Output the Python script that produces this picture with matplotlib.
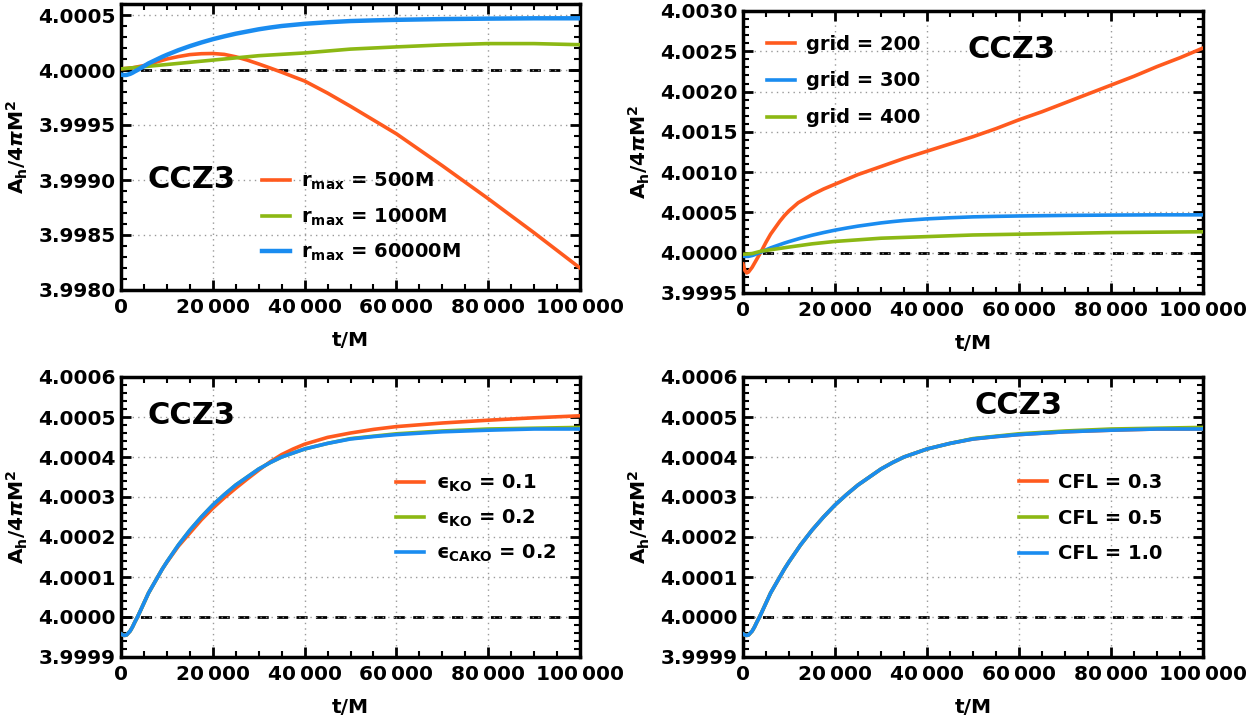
import matplotlib
matplotlib.use("Agg")
import matplotlib.pyplot as plt
from matplotlib.ticker import MultipleLocator, FuncFormatter, FixedLocator

plt.rcParams['font.family'] = ['DejaVu Sans']
plt.rcParams['font.weight'] = 'bold'
plt.rcParams['mathtext.fontset'] = 'dejavusans'
plt.rcParams['mathtext.default'] = 'bf'

ORANGE = '#FF5A1E'
GREEN = '#8CB814'
BLUE = '#1A8CF0'

# ---------------- data ----------------
# reference (converged) run, used in several panels
t_base = [0, 400, 800, 1200, 1600, 2000, 2500, 3000, 3500, 4000, 5000, 6000,
          7000, 8000, 9000, 10000, 12500, 15000, 17500, 20000, 22500, 25000,
          27500, 30000, 32500, 35000, 37500, 40000, 45000, 50000, 55000,
          60000, 70000, 80000, 90000, 100000]
v_base = [3.999958, 3.999955, 3.999954, 3.999955, 3.99996, 3.999965,
          3.999975, 3.999987, 3.999998, 4.00001, 4.000035, 4.00006, 4.00008,
          4.00010, 4.00012, 4.000138, 4.00018, 4.000217, 4.00025, 4.00028,
          4.000306, 4.00033, 4.00035, 4.00037, 4.000386, 4.00040, 4.00041,
          4.00042, 4.000434, 4.000445, 4.000451, 4.000456, 4.000463,
          4.000467, 4.00047, 4.00047]

# panel 1: r_max
t_r500 = [0, 2500, 5000, 7500, 10000, 12500, 15000, 17500, 20000, 22500,
          25000, 27500, 30000, 32500, 35000, 37500, 40000, 45000, 50000,
          55000, 60000, 65000, 70000, 75000, 80000, 85000, 90000, 95000,
          100000]
v_r500 = [4.00001, 4.00002, 4.00004, 4.00007, 4.00010, 4.000122, 4.00014,
          4.000148, 4.00015, 4.000142, 4.00012, 4.00009, 4.000055, 4.000018,
          3.99998, 3.99994, 3.99990, 3.99979, 3.99967, 3.999545, 3.99942,
          3.999275, 3.99913, 3.99898, 3.99883, 3.998675, 3.99852, 3.99836,
          3.99820]
t_r1000 = [0, 5000, 10000, 20000, 30000, 40000, 50000, 60000, 70000, 80000,
           90000, 100000]
v_r1000 = [4.00001, 4.00003, 4.00005, 4.00009, 4.00013, 4.000155, 4.00019,
           4.00021, 4.000228, 4.00024, 4.00024, 4.00023]
labels_r = [r'$r_{max}$ = 500M', r'$r_{max}$ = 1000M', r'$r_{max}$ = 60000M']

# panel 2: grid
t_g200 = [0, 400, 800, 1200, 2000, 3000, 4000, 5000, 6000, 7000, 8000, 9000,
          10000, 11000, 12000, 13500, 15000, 17500, 20000, 25000, 30000,
          35000, 40000, 45000, 50000, 55000, 60000, 65000, 70000, 75000,
          80000, 85000, 90000, 95000, 100000]
v_g200 = [3.99986, 3.99978, 3.99975, 3.99976, 3.99982, 3.99992, 4.00002,
          4.00013, 4.00023, 4.00031, 4.00039, 4.00046, 4.00052, 4.00057,
          4.00062, 4.00067, 4.00072, 4.00079, 4.00085, 4.00097, 4.00107,
          4.00117, 4.00126, 4.00135, 4.00144, 4.00154, 4.00165, 4.00175,
          4.00186, 4.00197, 4.00208, 4.00219, 4.00231, 4.00242, 4.00254]
t_g400 = [0, 2000, 4000, 7000, 10000, 15000, 20000, 25000, 30000, 35000,
          40000, 50000, 60000, 70000, 80000, 90000, 100000]
v_g400 = [3.99998, 3.99999, 4.00002, 4.000045, 4.00007, 4.00011, 4.00014,
          4.00016, 4.00018, 4.00019, 4.00020, 4.00022, 4.00023, 4.00024,
          4.00025, 4.000255, 4.00026]
labels_g = ['grid = 200', 'grid = 300', 'grid = 400']

# panel 3: dissipation
v_ko01 = [3.999958, 3.999955, 3.999954, 3.999955, 3.99996, 3.999965,
          3.999975, 3.999987, 3.999998, 4.00001, 4.000035, 4.00006, 4.00008,
          4.00010, 4.00012, 4.000137, 4.000177, 4.00021, 4.000243, 4.000272,
          4.000298, 4.000322, 4.000345, 4.000367, 4.000388, 4.000406,
          4.00042, 4.000432, 4.000449, 4.00046, 4.000469, 4.000476,
          4.000485, 4.000492, 4.000498, 4.000503]
v_ko02 = [3.999958, 3.999955, 3.999954, 3.999955, 3.99996, 3.999965,
          3.999975, 3.999987, 3.999998, 4.00001, 4.000035, 4.00006, 4.00008,
          4.00010, 4.00012, 4.000138, 4.00018, 4.000217, 4.00025, 4.00028,
          4.000306, 4.00033, 4.00035, 4.00037, 4.000386, 4.00040, 4.00041,
          4.00042, 4.000434, 4.000446, 4.000452, 4.000458, 4.000465,
          4.00047, 4.000472, 4.000474]
labels_ko = [r'$ϵ_{KO}$ = 0.1', r'$ϵ_{KO}$ = 0.2', r'$ϵ_{CAKO}$ = 0.2']

# panel 4: CFL
v_cfl03 = v_base
v_cfl05 = v_ko02
v_cfl10 = v_base
labels_cfl = ['CFL = 0.3', 'CFL = 0.5', 'CFL = 1.0']

xticks = [0, 20000, 40000, 60000, 80000, 100000]

# ---------------- figure ----------------
fig = plt.figure(figsize=(12.56, 7.19), dpi=100)
W, H = 1256, 719


def make_ax(l, r, t, b):
    return fig.add_axes([l / W, 1 - b / H, (r - l) / W, (b - t) / H])


def xfmt(x, pos):
    return f"{int(round(x)):,}".replace(",", "\u2009")


def style(ax, ylim, ymajor, yminor):
    ax.set_xlim(0, 100000)
    ax.set_ylim(*ylim)
    ax.xaxis.set_major_locator(FixedLocator(xticks))
    ax.xaxis.set_minor_locator(MultipleLocator(5000))
    ax.xaxis.set_major_formatter(FuncFormatter(xfmt))
    ax.yaxis.set_major_locator(MultipleLocator(ymajor))
    ax.yaxis.set_minor_locator(MultipleLocator(yminor))
    ax.yaxis.set_major_formatter(FuncFormatter(lambda y, p: f"{y:.4f}"))
    ax.tick_params(which='both', direction='in', top=True, right=True,
                   labelsize=14.5)
    ax.tick_params(which='major', length=7, width=2)
    ax.tick_params(axis='y', which='major', pad=4)
    ax.tick_params(axis='x', which='major', pad=6)
    ax.tick_params(which='minor', length=4, width=1.5)
    for lab in ax.get_xticklabels() + ax.get_yticklabels():
        lab.set_fontweight('bold')
    for s in ax.spines.values():
        s.set_linewidth(2.5)
    ax.grid(True, which='major', linestyle=(0, (1, 3)), color='#999999',
            linewidth=1)
    ax.axhline(4.0, color='black', linestyle=(0, (4, 3)), linewidth=2,
               zorder=1)
    ax.set_xlabel('t/M', fontsize=14.5, fontweight='bold', labelpad=10)
    ax.set_ylabel(r'$A_h/4\mathit{\pi} M^2$', fontsize=14.5, labelpad=6)


def add_legend(ax, x, y, spacing):
    ax.legend(loc='center left', bbox_to_anchor=(x, y), frameon=False,
              borderpad=0, handlelength=1.45, handletextpad=0.6,
              labelspacing=spacing, prop={'size': 14, 'weight': 'bold'})


def ccz3(ax, x, y):
    ax.text(x, y, 'CCZ3', transform=ax.transAxes, fontsize=22,
            fontweight='bold', ha='left', va='center')


lw = 2.6

# panel 1
ax1 = make_ax(121, 580, 4, 290)
ax1.plot(t_r500, v_r500, color=ORANGE, lw=lw, label=labels_r[0], zorder=3)
ax1.plot(t_r1000, v_r1000, color=GREEN, lw=lw, label=labels_r[1], zorder=3)
ax1.plot(t_base, v_base, color=BLUE, lw=3.2, label=labels_r[2], zorder=4)
style(ax1, (3.9980, 4.0006), 0.0005, 0.0001)
add_legend(ax1, 0.285, 0.255, 0.72)
ccz3(ax1, 0.057, 0.385)

# panel 2
ax2 = make_ax(743, 1203, 11, 293)
ax2.plot(t_g200, v_g200, color=ORANGE, lw=lw, label=labels_g[0], zorder=3)
ax2.plot(t_base, v_base, color=BLUE, lw=lw, label=labels_g[1], zorder=3)
ax2.plot(t_g400, v_g400, color=GREEN, lw=lw, label=labels_g[2], zorder=3)
style(ax2, (3.9995, 4.0030), 0.0005, 0.0001)
add_legend(ax2, 0.030, 0.752, 0.92)
ccz3(ax2, 0.487, 0.862)

# panel 3
ax3 = make_ax(121, 580, 377, 657)
ax3.plot(t_base, v_ko01, color=ORANGE, lw=lw, label=labels_ko[0], zorder=3)
ax3.plot(t_base, v_ko02, color=GREEN, lw=lw, label=labels_ko[1], zorder=3)
ax3.plot(t_base, v_base, color=BLUE, lw=lw, label=labels_ko[2], zorder=4)
style(ax3, (3.9999, 4.0006), 0.0001, 0.00002)
add_legend(ax3, 0.578, 0.496, 0.70)
ccz3(ax3, 0.057, 0.864)

# panel 4
ax4 = make_ax(743, 1203, 377, 657)
ax4.plot(t_base, v_cfl03, color=ORANGE, lw=lw, label=labels_cfl[0], zorder=3)
ax4.plot(t_base, v_cfl05, color=GREEN, lw=lw, label=labels_cfl[1], zorder=3)
ax4.plot(t_base, v_cfl10, color=BLUE, lw=lw, label=labels_cfl[2], zorder=4)
style(ax4, (3.9999, 4.0006), 0.0001, 0.00002)
add_legend(ax4, 0.578, 0.496, 0.86)
ccz3(ax4, 0.503, 0.90)

fig.savefig('out.png', dpi=100)
